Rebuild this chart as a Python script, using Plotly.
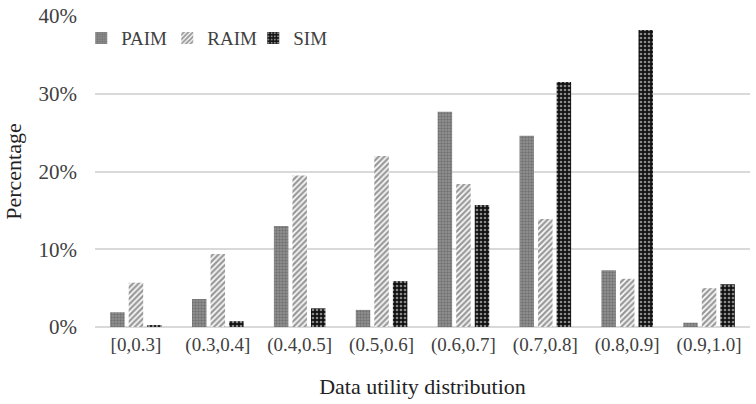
import plotly.graph_objects as go

categories = ["[0,0.3]", "(0.3,0.4]", "(0.4,0.5]", "(0.5,0.6]", "(0.6,0.7]", "(0.7,0.8]", "(0.8,0.9]", "(0.9,1.0]"]
paim = [1.9, 3.6, 13.0, 2.2, 27.7, 24.6, 7.3, 0.55]
raim = [5.7, 9.4, 19.5, 22.0, 18.4, 13.9, 6.2, 5.0]
sim = [0.2, 0.75, 2.4, 5.9, 15.7, 31.5, 38.2, 5.5]
yticks = [0, 10, 20, 30, 40]
ytick_labels = [f"{v}%" for v in yticks]

font_family = "Liberation Serif"

fig = go.Figure()
fig.add_trace(go.Bar(
    name="PAIM", x=categories, y=paim,
    marker=dict(color="#808080", line=dict(width=0),
                pattern=dict(shape=".", fgcolor="#4d4d4d", bgcolor="#959595", size=3, solidity=0.5)),
))
fig.add_trace(go.Bar(
    name="RAIM", x=categories, y=raim,
    marker=dict(color="#ffffff", line=dict(width=0),
                pattern=dict(shape="/", fgcolor="#333333", bgcolor="#ffffff", size=4, solidity=0.6)),
))
fig.add_trace(go.Bar(
    name="SIM", x=categories, y=sim,
    marker=dict(color="#000000", line=dict(width=0),
                pattern=dict(shape=".", fgcolor="#ffffff", bgcolor="#111111", size=4, solidity=0.35)),
))

fig.update_layout(
    width=756, height=404,
    margin=dict(l=95, r=6, t=16, b=77),
    paper_bgcolor="white", plot_bgcolor="white",
    barmode="group", bargap=0.32, bargroupgap=0.22,
    font=dict(family=font_family, size=19, color="#404040"),
    legend=dict(orientation="h", x=-0.021, y=0.99, xanchor="left", yanchor="top",
                font=dict(family=font_family, size=19, color="#404040"), bgcolor="rgba(0,0,0,0)",
                entrywidth=41, entrywidthmode="pixels", tracegroupgap=0),
    xaxis=dict(title=dict(text="Data utility distribution", font=dict(family=font_family, size=22, color="#222222"), standoff=23),
               automargin=False,
               showgrid=False, showline=True, linecolor="#d9d9d9", linewidth=1,
               tickfont=dict(family=font_family, size=19, color="#404040"), ticks=""),
    yaxis=dict(title=dict(text="Percentage", font=dict(family=font_family, size=22, color="#222222"), standoff=10),
               automargin=False,
               range=[0, 40], tickmode="array", tickvals=yticks, ticktext=ytick_labels,
               ticklabelstandoff=17,
               showgrid=True, gridcolor="#d9d9d9", gridwidth=1.5,
               zeroline=True, zerolinecolor="#d9d9d9", zerolinewidth=1.5,
               tickfont=dict(family=font_family, size=21, color="#404040"), ticks=""),
)

# Remove the browser's default 8px body margin so the figure fills the window.
fig.write_html("out.html", config={"displayModeBar": False},
               post_script="document.body.style.margin='0';")
